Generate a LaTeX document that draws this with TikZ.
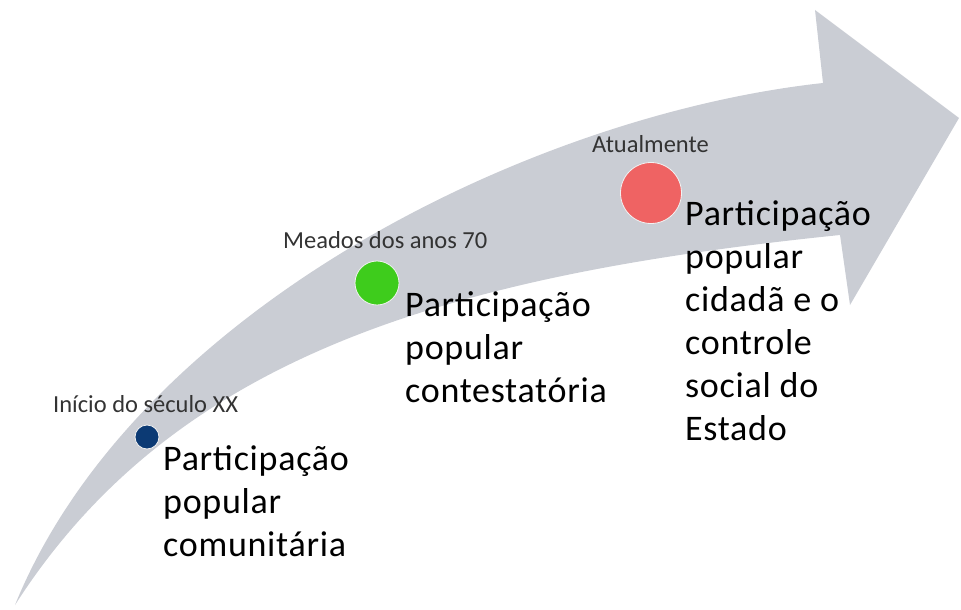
\documentclass[tikz,border=0pt]{standalone}
\usepackage{fontspec}
\setmainfont{Carlito}
\definecolor{grisfleche}{RGB}{202,205,212}
\definecolor{bleunuit}{RGB}{12,58,116}
\definecolor{vertvif}{RGB}{62,204,28}
\definecolor{rougeclair}{RGB}{239,99,99}
\begin{document}
\begin{tikzpicture}[x=1pt,y=-1pt,
    point/.style={circle,inner sep=0pt,draw=white!90!gray,line width=0.8pt},
    date/.style={anchor=base west,inner sep=0pt,text=black!80,font=\fontsize{24.5}{29}\selectfont},
    etape/.style={anchor=base west,inner sep=0pt,align=left,font=\fontsize{36}{43}\selectfont\addfontfeatures{LetterSpace=2}}]
    \useasboundingbox (0,0) rectangle (961,610);
    \def\fleche{(15,605) .. controls (135,310) and (530,115) .. (823,83) -- (815,10) -- (959,118)
        -- (850,305) -- (840,235) .. controls (450,275) and (175,355) .. (15,605) -- cycle}
    \fill [grisfleche] \fleche;
    %\draw [red] \fleche;
    \node [point,fill=bleunuit,minimum size=24pt] (p1) at (147,437) {};
    \node [point,fill=vertvif,minimum size=44pt] (p2) at (377,283) {};
    \node [point,fill=rougeclair,minimum size=61pt] (p3) at (651,193) {};
    \node [date] (d1) at (53,412) {Início do século XX};
    \node [date] (d2) at (283,248) {Meados dos anos 70};
    \node [date] (d3) at (592,152) {Atualmente};
    % la ligne de base est celle de la derniere ligne
    \node [etape] (e1) at (163,556) {Participação\\popular\\comunitária};
    \node [etape] (e2) at (405,402) {Participação\\popular\\contestatória};
    \node [etape] (e3) at (685,440) {Participação\\popular\\cidadã e o\\controle\\social do\\Estado};%Texte long sur six lignes
\end{tikzpicture}
\end{document}
